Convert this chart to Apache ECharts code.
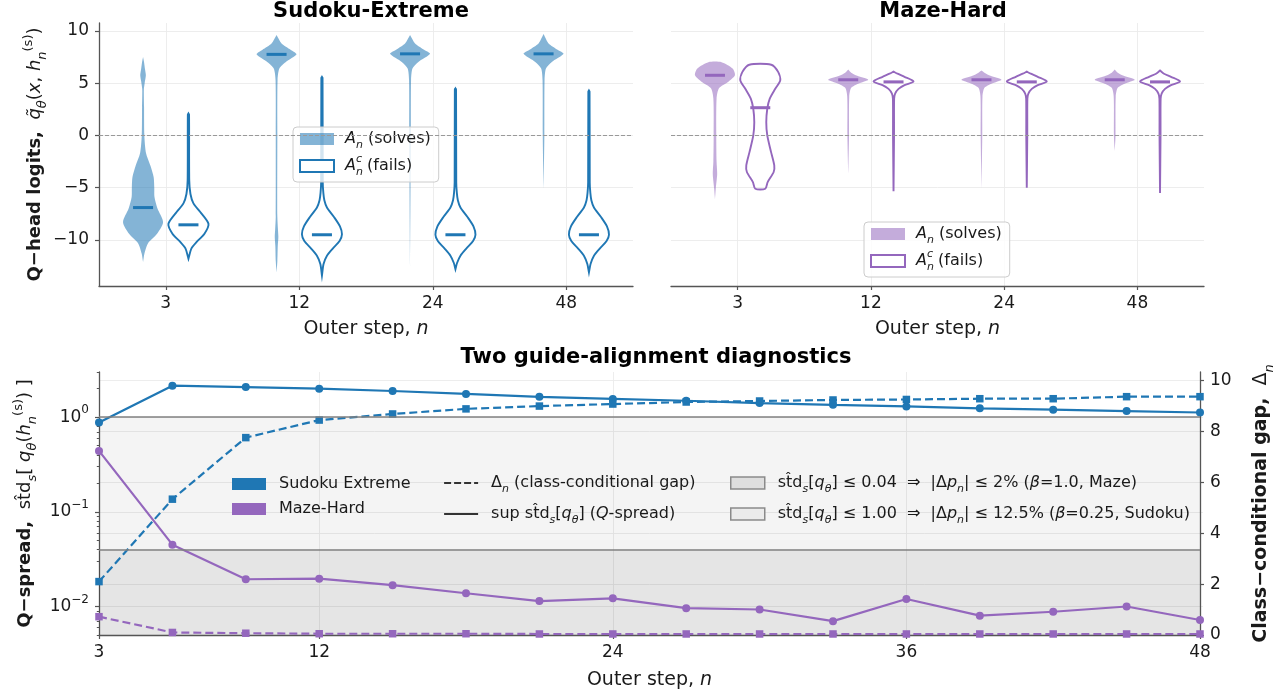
<!DOCTYPE html>
<html>
<head>
<meta charset="utf-8">
<script src="https://cdn.jsdelivr.net/npm/echarts@6/dist/echarts.min.js"></script>
<style>
  html, body { margin: 0; padding: 0; background: #fff; }
  #chart { width: 1284px; height: 693px; }
</style>
</head>
<body>
<div id="chart"></div>
<script>
// ---- violin panels: outer steps and per-violin outline [logit, relative density] ----
const stepLabels = [3, 12, 24, 48];

const sudokuSolveMedian = [-6.9, 7.75, 7.8, 7.8];
const sudokuFailMedian = [-8.55, -9.5, -9.5, -9.5];
const mazeSolveMedian = [5.75, 5.32, 5.32, 5.32];
const mazeFailMedian = [2.65, 5.12, 5.12, 5.12];

const sudokuSolveShape = [
  [[7.5, 0], [7.0, 0.05], [6.3, 0.1], [5.75, 0.14], [5.0, 0.08], [4.4, 0.04], [2.7, 0.05], [0, 0.065], [-1.7, 0.15], [-2.9, 0.37], [-4.0, 0.53], [-5.0, 0.56], [-5.9, 0.57], [-7.0, 0.72], [-8.3, 1.0], [-9.4, 0.7], [-10.3, 0.25], [-11.3, 0.07], [-12.1, 0]],
  [[9.6, 0], [8.8, 0.25], [8.2, 0.7], [7.75, 1.0], [7.0, 0.45], [6.4, 0.14], [5.3, 0.05], [0, 0.04], [-7.8, 0.04], [-9.0, 0.07], [-9.7, 0.09], [-10.6, 0.06], [-12.0, 0.04], [-13.1, 0]],
  [[9.6, 0], [8.8, 0.25], [8.2, 0.7], [7.8, 1.0], [7.0, 0.4], [6.4, 0.12], [5.3, 0.05], [0, 0.04], [-12.6, 0]],
  [[9.7, 0], [8.8, 0.25], [8.2, 0.7], [7.8, 1.0], [7.0, 0.4], [6.4, 0.12], [5.3, 0.05], [0, 0.04], [-5.1, 0]]
];
const sudokuFailShape = [
  [[2.1, 0], [2.0, 0.03], [-4.3, 0.04], [-5.6, 0.1], [-6.5, 0.25], [-7.3, 0.58], [-8.45, 1.0], [-9.4, 0.8], [-10.2, 0.4], [-10.8, 0.15], [-11.8, 0]],
  [[5.6, 0], [5.5, 0.03], [-4.5, 0.04], [-5.5, 0.07], [-6.2, 0.12], [-6.9, 0.25], [-7.8, 0.6], [-8.7, 0.9], [-9.45, 1.0], [-10.1, 0.88], [-10.8, 0.55], [-11.5, 0.25], [-12.3, 0.08], [-13.4, 0]],
  [[4.5, 0], [4.4, 0.03], [-4.5, 0.04], [-5.5, 0.07], [-6.2, 0.12], [-6.9, 0.25], [-7.8, 0.6], [-8.7, 0.9], [-9.5, 1.0], [-10.1, 0.88], [-10.8, 0.55], [-11.5, 0.25], [-12.2, 0.08], [-12.8, 0]],
  [[4.3, 0], [4.2, 0.03], [-4.5, 0.04], [-5.5, 0.07], [-6.2, 0.12], [-6.9, 0.25], [-7.8, 0.6], [-8.7, 0.9], [-9.5, 1.0], [-10.1, 0.88], [-10.8, 0.55], [-11.5, 0.25], [-12.3, 0.08], [-13.1, 0]]
];
const mazeSolveShape = [
  [[7.0, 0.33], [6.4, 0.88], [5.75, 1.0], [5.1, 0.65], [4.5, 0.2], [3.5, 0.08], [0, 0.065], [-2.5, 0.08], [-3.7, 0.11], [-5.1, 0.04], [-6.1, 0]],
  [[6.3, 0], [6.0, 0.15], [5.7, 0.45], [5.32, 1.0], [4.95, 0.5], [4.55, 0.15], [3.7, 0.05], [0, 0.04], [-3.7, 0]],
  [[6.2, 0], [6.0, 0.15], [5.7, 0.45], [5.32, 1.0], [4.95, 0.5], [4.55, 0.15], [3.7, 0.05], [0, 0.04], [-5.1, 0]],
  [[6.3, 0], [6.0, 0.15], [5.7, 0.45], [5.32, 1.0], [4.95, 0.5], [4.55, 0.15], [3.7, 0.05], [0, 0.04], [-1.5, 0]]
];
const mazeFailShape = [
  [[6.76, 0.55], [6.05, 0.9], [5.26, 1.0], [4.46, 0.75], [3.5, 0.47], [2.55, 0.35], [1.27, 0.3], [0, 0.35], [-1.6, 0.54], [-2.87, 0.7], [-3.5, 0.67], [-4.46, 0.37], [-5.1, 0.25]],
  [[6.1, 0], [5.9, 0.2], [5.6, 0.55], [5.16, 1.0], [4.8, 0.55], [4.45, 0.25], [4.0, 0.08], [3.5, 0.03], [0, 0.025], [-5.35, 0]],
  [[6.1, 0], [5.9, 0.2], [5.6, 0.55], [5.16, 1.0], [4.8, 0.55], [4.45, 0.25], [4.0, 0.08], [3.5, 0.03], [0, 0.025], [-5.0, 0]],
  [[6.2, 0], [5.9, 0.2], [5.6, 0.55], [5.16, 1.0], [4.8, 0.55], [4.45, 0.25], [4.0, 0.08], [3.5, 0.03], [0, 0.025], [-5.5, 0]]
];

// ---- diagnostics panel ----
const lineSteps = [3, 6, 9, 12, 15, 18, 21, 24, 27, 30, 33, 36, 39, 42, 45, 48];
const sudokuSpread = [0.88, 2.15, 2.08, 2.0, 1.89, 1.76, 1.64, 1.56, 1.49, 1.41, 1.35, 1.30, 1.24, 1.20, 1.16, 1.12];
const sudokuGap = [2.1, 5.34, 7.76, 8.45, 8.69, 8.89, 9.0, 9.08, 9.16, 9.2, 9.24, 9.26, 9.29, 9.29, 9.37, 9.37];
const mazeSpread = [0.44, 0.045, 0.0194, 0.0197, 0.0168, 0.0138, 0.0114, 0.0122, 0.0096, 0.0093, 0.0070, 0.0120, 0.0080, 0.0088, 0.0100, 0.0072];
const mazeGap = [0.72, 0.10, 0.07, 0.05, 0.05, 0.05, 0.04, 0.04, 0.04, 0.04, 0.04, 0.04, 0.04, 0.04, 0.04, 0.04];
const bottomTicks = [3, 12, 24, 36, 48];
const spreadMin = 0.005, spreadMax = 3;
const spreadMajor = [-2, -1, 0]; // log10 of 10^-2 .. 10^0
const spreadMinor = [0.005, 0.006, 0.007, 0.008, 0.009, 0.02, 0.03, 0.04, 0.05, 0.06, 0.07, 0.08, 0.09,
  0.2, 0.3, 0.4, 0.5, 0.6, 0.7, 0.8, 0.9, 2, 3];
const gapTicks = [0, 2, 4, 6, 8, 10];
const gapMax = 10.34;
const mazeBand = 0.04, sudokuBand = 1.0;

const FONT = "DejaVu Sans";
const blue = "#1f77b4", purple = "#9467bd";
const blueFill = "rgba(31,119,180,0.55)", purpleFill = "rgba(148,103,189,0.55)";
const ink = "#1a1a1a";

function rich(size, lhScale) {
  const lh = Math.round(size * (lhScale || 1.5));
  const s = Math.round(size * 0.7);
  return {
    b: { fontFamily: FONT, fontSize: size, fontWeight: "bold", lineHeight: lh, color: ink },
    n: { fontFamily: FONT, fontSize: size, lineHeight: lh, color: ink },
    i: { fontFamily: FONT, fontSize: size, fontStyle: "italic", lineHeight: lh, color: ink },
    sub: { fontFamily: FONT, fontSize: s, fontStyle: "italic", verticalAlign: "bottom", lineHeight: s + 2, color: ink },
    subu: { fontFamily: FONT, fontSize: s, verticalAlign: "bottom", lineHeight: s + 2, color: ink },
    sup: { fontFamily: FONT, fontSize: s, verticalAlign: "top", lineHeight: s + 2, color: ink },
    supk: { fontFamily: FONT, fontSize: s, fontStyle: "italic", verticalAlign: "top", lineHeight: s + 2, color: ink, padding: [0, 0, 0, -7] }
  };
}

const spine = { show: true, onZero: false, lineStyle: { color: "#555", width: 1.3 } };
const tick = { show: true, length: 4, lineStyle: { color: "#555", width: 1.2 } };
const gridLine = { show: true, lineStyle: { color: "#ebebeb", width: 0.9 } };
const tickFont = { fontFamily: FONT, fontSize: 17, color: ink };
const titleFont = { fontFamily: FONT, fontSize: 21, fontWeight: "bold", color: "#000" };
const STD = "st\u0302d";

function stepAxis(gridIndex) {
  return {
    type: "value", gridIndex, min: -0.5, max: 3.5,
    axisLine: spine,
    axisTick: { ...tick, customValues: [0, 1, 2, 3] },
    axisLabel: { ...tickFont, margin: 9, customValues: [0, 1, 2, 3], formatter: v => String(stepLabels[v]) },
    splitLine: gridLine,
    name: "{n|Outer step, }{i|n}", nameLocation: "middle", nameGap: 29,
    nameTextStyle: { fontFamily: FONT, fontSize: 19, color: ink, rich: rich(19) }
  };
}

function violin(name, gridIndex, shapes, medians, color, filled, offset) {
  const fill = color === blue ? blueFill : purpleFill;
  return {
    name, type: "custom", xAxisIndex: gridIndex, yAxisIndex: gridIndex,
    itemStyle: { color: filled ? fill : color },
    data: medians.map((m, i) => [i, m]),
    renderItem(params, api) {
      const i = api.value(0);
      const shape = shapes[params.dataIndex];
      const cx = api.coord([i + offset, 0])[0];
      const hw = api.size([0.15, 0])[0];
      const right = shape.map(([v, d]) => [cx + d * hw, api.coord([i, v])[1]]);
      const left = shape.slice().reverse().map(([v, d]) => [cx - d * hw, api.coord([i, v])[1]]);
      const my = api.coord([i, api.value(1)])[1];
      const mw = api.size([0.075, 0])[0];
      return {
        type: "group",
        children: [
          {
            type: "polygon",
            shape: { points: right.concat(left), smooth: 0.25 },
            style: filled ? { fill, stroke: null } : { fill: "none", stroke: color, lineWidth: 1.9 }
          },
          {
            type: "line",
            shape: { x1: cx - mw, y1: my, x2: cx + mw, y2: my },
            style: { stroke: color, lineWidth: 3 }
          }
        ]
      };
    }
  };
}

const zeroLine = {
  silent: true, symbol: "none", label: { show: false },
  lineStyle: { color: "#999", type: [4, 2], width: 1 },
  data: [{ yAxis: 0 }]
};

const legendBox = {
  orient: "vertical", selectedMode: false, itemWidth: 34, itemHeight: 12, itemGap: 3,
  padding: [4, 8, 4, 6], borderColor: "#cccccc", borderWidth: 1, borderRadius: 4,
  backgroundColor: "rgba(255,255,255,0.8)",
  textStyle: { fontFamily: FONT, fontSize: 16, color: ink, padding: [0, 0, 0, 6], rich: rich(16) },
  formatter: n => /Solves$/.test(n) ? "{i|A}{sub|n}{n| (solves)}" : "{i|A}{sub|n}{supk|c}{n| (fails)}"
};

const plainLegend = {
  orient: "vertical", selectedMode: false, itemWidth: 34, itemHeight: 12, itemGap: 9, padding: 0,
  textStyle: { fontFamily: FONT, fontSize: 16, color: ink, padding: [0, 0, 0, 8], rich: rich(16) }
};

const legendText = {
  gapStyle: "{n|\u0394}{sub|n}{n| (class-conditional gap)}",
  spreadStyle: "{n|sup }{n|" + STD + "}{sub|s}{n|[}{i|q}{sub|\u03b8}{n|] (}{i|Q}{n|-spread)}",
  band004: "{n|" + STD + "}{sub|s}{n|[}{i|q}{sub|\u03b8}{n|] \u2264 0.04  \u21d2  |\u0394}{i|p}{sub|n}{n|| \u2264 2% (}{i|\u03b2}{n|=1.0, Maze)}",
  band100: "{n|" + STD + "}{sub|s}{n|[}{i|q}{sub|\u03b8}{n|] \u2264 1.00  \u21d2  |\u0394}{i|p}{sub|n}{n|| \u2264 12.5% (}{i|\u03b2}{n|=0.25, Sudoku)}"
};

const bottomGrid = { left: 99, top: 372, width: 1104, height: 263 };

const option = {
  animation: false,
  backgroundColor: "#fff",
  textStyle: { fontFamily: FONT },
  title: [
    { text: "Sudoku-Extreme", left: 366, top: -4, textAlign: "center", textStyle: titleFont },
    { text: "Maze-Hard", left: 938, top: -4, textAlign: "center", textStyle: titleFont },
    { text: "Two guide-alignment diagnostics", left: 651, top: 342, textAlign: "center", textStyle: titleFont }
  ],
  grid: [
    { left: 99, top: 23, width: 534, height: 263 },
    { left: 671, top: 23, width: 533, height: 263 },
    bottomGrid, bottomGrid, bottomGrid
  ],
  xAxis: [
    stepAxis(0),
    stepAxis(1),
    {
      type: "value", gridIndex: 2, min: 3, max: 48,
      axisLine: spine,
      axisTick: { ...tick, customValues: bottomTicks },
      axisLabel: { ...tickFont, margin: 9, customValues: bottomTicks },
      splitLine: gridLine,
      name: "{n|Outer step, }{i|n}", nameLocation: "middle", nameGap: 31,
      nameTextStyle: { fontFamily: FONT, fontSize: 19, color: ink, rich: rich(19) }
    },
    { type: "value", gridIndex: 3, min: 0, max: 1, show: false },
    { type: "value", gridIndex: 4, min: 0, max: 1, show: false }
  ],
  yAxis: [
    {
      type: "value", gridIndex: 0, min: -14.4, max: 10.75,
      axisLine: spine,
      axisTick: { ...tick, customValues: [-10, -5, 0, 5, 10] },
      axisLabel: { ...tickFont, margin: 10, customValues: [-10, -5, 0, 5, 10], formatter: v => String(v).replace("-", "\u2212") },
      splitLine: gridLine,
      name: "{b|Q\u2212head logits,}{n|  }{i|q\u0303}{sub|\u03b8}{n|(}{i|x}{n|, }{i|h}{sub|n}{sup|(s)}{n|)}",
      nameLocation: "middle", nameGap: 50,
      nameTextStyle: { fontFamily: FONT, fontSize: 18, color: ink, rich: rich(18) }
    },
    {
      type: "value", gridIndex: 1, min: -14.4, max: 10.75,
      axisLine: { show: false }, axisTick: { show: false, customValues: [-10, -5, 0, 5, 10] },
      axisLabel: { show: false }, splitLine: gridLine
    },
    {
      type: "log", gridIndex: 2, min: spreadMin, max: spreadMax, logBase: 10,
      axisLine: spine, axisTick: { show: false }, axisLabel: { show: false }, splitLine: { show: false }
    },
    {
      type: "value", gridIndex: 2, position: "right", min: 0, max: gapMax,
      axisLine: spine,
      axisTick: { ...tick, customValues: gapTicks },
      axisLabel: { ...tickFont, margin: 10, customValues: gapTicks },
      splitLine: gridLine,
      name: "{b|Class\u2212conditional gap,}{n|  \u0394}{sub|n}",
      nameLocation: "middle", nameGap: 47, nameRotate: 90,
      nameTextStyle: { fontFamily: FONT, fontSize: 19, color: ink, rich: rich(19) }
    },
    {
      type: "value", gridIndex: 3, min: Math.log10(spreadMin), max: Math.log10(spreadMax),
      axisLine: { show: false, onZero: false },
      axisTick: { ...tick, customValues: spreadMajor },
      axisLabel: {
        ...tickFont, margin: 10, customValues: spreadMajor,
        formatter: v => "{n|10}{sup|" + (v === 0 ? "0" : "\u2212" + Math.abs(v)) + "}",
        rich: {
          n: { fontFamily: FONT, fontSize: 17, color: ink, lineHeight: 26 },
          sup: { fontFamily: FONT, fontSize: 12, color: ink, verticalAlign: "top", lineHeight: 14 }
        }
      },
      splitLine: gridLine,
      name: "{b|Q\u2212spread,}{n|  " + STD + "}{sub|s}{n|[ }{i|q}{sub|\u03b8}{n|(}{i|h}{sub|n}{sup|(s)}{n|) ]}",
      nameLocation: "middle", nameGap: 56,
      nameTextStyle: { fontFamily: FONT, fontSize: 18, color: ink, rich: rich(18) }
    },
    {
      type: "value", gridIndex: 4, min: Math.log10(spreadMin), max: Math.log10(spreadMax),
      axisLine: { show: false, onZero: false },
      axisTick: { show: true, length: 2.2, lineStyle: { color: "#555", width: 1 }, customValues: spreadMinor.map(Math.log10) },
      axisLabel: { show: false }, splitLine: { show: false }
    }
  ],
  legend: [
    {
      ...legendBox, left: 293, top: 127,
      data: [
        { name: "sudokuSolves", icon: "rect", itemStyle: { color: blueFill, borderWidth: 0 } },
        { name: "sudokuFails", icon: "rect", itemStyle: { color: "#fff", borderColor: blue, borderWidth: 2 } }
      ]
    },
    {
      ...legendBox, left: 864, top: 222,
      data: [
        { name: "mazeSolves", icon: "rect", itemStyle: { color: purpleFill, borderWidth: 0 } },
        { name: "mazeFails", icon: "rect", itemStyle: { color: "#fff", borderColor: purple, borderWidth: 2 } }
      ]
    },
    {
      ...plainLegend, left: 232, top: 476,
      data: [
        { name: "Sudoku Extreme", icon: "rect", itemStyle: { color: blue } },
        { name: "Maze-Hard", icon: "rect", itemStyle: { color: purple } }
      ]
    },
    {
      ...plainLegend, left: 443, top: 475, itemGap: 11,
      data: [
        { name: "gapStyle", itemStyle: { opacity: 0 }, lineStyle: { color: "#333", width: 2.2, type: [7, 3] } },
        { name: "spreadStyle", itemStyle: { opacity: 0 }, lineStyle: { color: "#333", width: 2.2, type: "solid" } }
      ],
      formatter: n => legendText[n]
    },
    {
      ...plainLegend, left: 730, top: 475, itemGap: 11,
      data: [
        { name: "band004", icon: "rect", itemStyle: { color: "#dedede", borderColor: "#8a8a8a", borderWidth: 1.5 } },
        { name: "band100", icon: "rect", itemStyle: { color: "#ebebeb", borderColor: "#8a8a8a", borderWidth: 1.5 } }
      ],
      formatter: n => legendText[n]
    }
  ],
  series: [
    { ...violin("sudokuSolves", 0, sudokuSolveShape, sudokuSolveMedian, blue, true, -0.17), markLine: zeroLine },
    violin("sudokuFails", 0, sudokuFailShape, sudokuFailMedian, blue, false, 0.17),
    { ...violin("mazeSolves", 1, mazeSolveShape, mazeSolveMedian, purple, true, -0.17), markLine: zeroLine },
    violin("mazeFails", 1, mazeFailShape, mazeFailMedian, purple, false, 0.17),

    // guide bands (Maze 0.04 / Sudoku 1.00) with their boundary lines
    {
      name: "band100", type: "line", xAxisIndex: 2, yAxisIndex: 2, data: [], z: 1,
      itemStyle: { color: "#ebebeb" },
      markArea: { silent: true, itemStyle: { color: "rgba(0,0,0,0.045)" }, data: [[{ yAxis: spreadMin }, { yAxis: sudokuBand }]] },
      markLine: { silent: true, symbol: "none", label: { show: false }, lineStyle: { color: "#808080", type: "solid", width: 1.6 }, data: [{ yAxis: sudokuBand }] }
    },
    {
      name: "band004", type: "line", xAxisIndex: 2, yAxisIndex: 2, data: [], z: 1,
      itemStyle: { color: "#dedede" },
      markArea: { silent: true, itemStyle: { color: "rgba(0,0,0,0.06)" }, data: [[{ yAxis: spreadMin }, { yAxis: mazeBand }]] },
      markLine: { silent: true, symbol: "none", label: { show: false }, lineStyle: { color: "#808080", type: "solid", width: 1.6 }, data: [{ yAxis: mazeBand }] }
    },

    {
      name: "sudokuSpread", type: "line", xAxisIndex: 2, yAxisIndex: 2, z: 3,
      data: lineSteps.map((n, i) => [n, sudokuSpread[i]]),
      symbol: "circle", symbolSize: 8, color: blue, lineStyle: { width: 2.2 }
    },
    {
      name: "sudokuGap", type: "line", xAxisIndex: 2, yAxisIndex: 3, z: 3,
      data: lineSteps.map((n, i) => [n, sudokuGap[i]]),
      symbol: "rect", symbolSize: 7.5, color: blue, lineStyle: { width: 2.2, type: [8, 4] }
    },
    {
      name: "mazeSpread", type: "line", xAxisIndex: 2, yAxisIndex: 2, z: 3,
      data: lineSteps.map((n, i) => [n, mazeSpread[i]]),
      symbol: "circle", symbolSize: 8, color: purple, lineStyle: { width: 2.2 }
    },
    {
      name: "mazeGap", type: "line", xAxisIndex: 2, yAxisIndex: 3, z: 3,
      data: lineSteps.map((n, i) => [n, mazeGap[i]]),
      symbol: "rect", symbolSize: 7.5, color: purple, lineStyle: { width: 2.2, type: [8, 4] }
    },

    // legend-only entries
    { name: "Sudoku Extreme", type: "line", xAxisIndex: 2, yAxisIndex: 2, data: [], color: blue },
    { name: "Maze-Hard", type: "line", xAxisIndex: 2, yAxisIndex: 2, data: [], color: purple },
    { name: "gapStyle", type: "line", xAxisIndex: 2, yAxisIndex: 2, data: [], symbol: "none", color: "#333", lineStyle: { width: 2.2, type: [7, 3] } },
    { name: "spreadStyle", type: "line", xAxisIndex: 2, yAxisIndex: 2, data: [], symbol: "none", color: "#333", lineStyle: { width: 2.2 } }
  ]
};

const chart = echarts.init(document.getElementById("chart"), null, { renderer: "canvas" });
chart.setOption(option);
</script>
</body>
</html>
